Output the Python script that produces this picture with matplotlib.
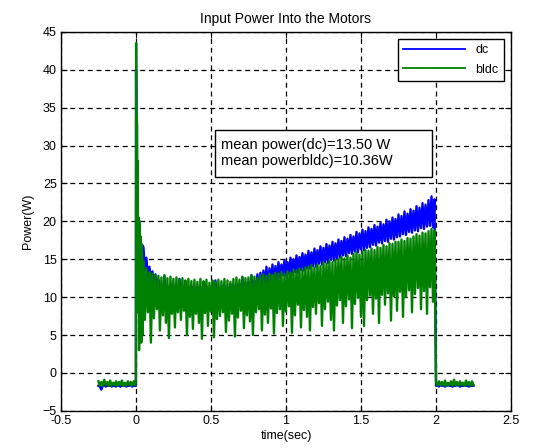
import numpy as np
import matplotlib
matplotlib.use("Agg")
from matplotlib import pyplot as plt
from matplotlib.patches import Rectangle

# ---- data (power in W) ----
# idle before start, t = -0.25 .. 0
dc_pre = [-1.7, -1.8, -2.2, -1.7, -1.6, -1.8, -1.7, -1.7, -1.6, -1.8, -1.7, -1.7, -1.8,
          -1.6, -1.7, -1.8, -1.7, -1.6, -1.7, -1.8, -1.7, -1.7, -1.6, -1.8, -1.7, -1.7]
bldc_pre = [-1.1, -1.7, -1.2, -1.7, -0.9, -1.6, -1.2, -1.7, -1.0, -1.7, -1.3, -1.6, -1.1,
            -1.7, -1.2, -1.6, -1.0, -1.7, -1.3, -1.7, -1.1, -1.6, -1.2, -1.7, -1.1, -1.6]

# start-up transient
dc_tr_t = [0.0, 0.001, 0.004, 0.008, 0.012, 0.016, 0.020, 0.025, 0.030, 0.035, 0.040, 0.045]
dc_tr = [-1.7, 40.0, 30.0, 25.0, 22.0, 18.0, 15.0, 17.0, 14.5, 16.5, 13.5, 16.8]
bldc_tr_t = [0.0, 0.0015, 0.003, 0.004, 0.005, 0.006, 0.007, 0.008, 0.009, 0.011, 0.013,
             0.015, 0.017, 0.019, 0.021, 0.023, 0.026, 0.028, 0.031, 0.034, 0.036, 0.039,
             0.042, 0.044, 0.047]
bldc_tr = [-1.2, 43.5, 34.5, 25.0, 34.0, 22.0, 33.0, 30.0, 10.0, 28.0, 22.0,
           8.0, 20.5, 20.0, 3.0, 19.0, 20.0, 6.0, 18.0, 16.0, 4.0, 17.0,
           15.0, 5.0, 14.5]

# running, t = 0.05 .. 1.99
dc_run = [
    16.6, 13.5, 15.2, 12.6, 14.0, 12.2, 13.4, 11.6, 13.0, 11.4,
    12.3, 10.2, 11.6, 10.5, 12.8, 10.0, 11.5, 10.3, 11.7, 9.9,
    11.6, 10.1, 11.4, 9.8, 12.4, 10.2, 11.3, 9.7, 11.5, 10.0,
    11.3, 9.7, 11.5, 9.9, 11.2, 8.8, 11.4, 9.8, 11.3, 9.6,
    11.2, 9.7, 11.4, 9.5, 11.2, 9.9, 11.1, 9.6, 12.2, 9.8,
    11.3, 9.7, 11.2, 10.0, 11.5, 9.8, 11.3, 10.1, 11.7, 9.9,
    11.6, 10.2, 11.8, 10.0, 11.7, 10.3, 12.6, 10.1, 11.9, 10.4,
    12.0, 10.5, 12.9, 10.3, 12.2, 10.6, 13.0, 10.5, 13.2, 10.8,
    13.5, 11.2, 14.0, 11.0, 13.8, 11.4, 14.3, 11.3, 14.1, 11.6,
    14.6, 12.6, 14.3, 12.9, 14.9, 12.8, 14.6, 13.1, 15.2, 13.0,
    15.0, 13.3, 15.5, 13.2, 15.3, 13.6, 15.8, 13.5, 15.6, 13.8,
    16.1, 13.8, 15.9, 14.1, 16.4, 14.0, 16.2, 14.4, 16.7, 14.3,
    16.5, 14.6, 17.0, 14.5, 16.8, 14.9, 17.3, 14.8, 17.1, 15.1,
    17.6, 15.2, 17.4, 15.5, 17.9, 15.4, 17.7, 15.8, 18.2, 15.7,
    18.0, 16.0, 18.6, 15.9, 18.4, 16.3, 18.9, 16.2, 18.7, 16.5,
    19.2, 16.6, 19.0, 16.9, 19.5, 16.8, 19.3, 17.2, 19.8, 17.1,
    19.6, 17.4, 20.2, 17.3, 20.0, 17.7, 20.5, 17.6, 20.3, 17.9,
    20.9, 18.0, 20.7, 18.3, 21.3, 18.2, 21.0, 18.6, 21.6, 18.5,
    21.4, 18.8, 22.0, 18.7, 21.8, 19.1, 22.4, 19.0, 22.2, 19.3,
    22.8, 19.4, 23.3, 19.2, 22.9,
]
bldc_run = [
    14.8, 7.0, 13.8, 8.0, 13.3, 4.0, 13.1, 7.2, 12.9, 8.4,
    12.8, 5.6, 12.6, 7.6, 12.9, 6.6, 12.5, 4.6, 12.7, 7.8,
    12.4, 6.0, 12.6, 8.0, 12.3, 7.0, 12.5, 8.2, 12.2, 5.0,
    12.4, 7.4, 12.1, 5.8, 12.3, 7.8, 12.0, 6.6, 12.4, 4.5,
    12.1, 7.9, 12.3, 6.2, 11.9, 8.1, 12.2, 4.7, 12.0, 7.1,
    12.3, 7.5, 12.1, 8.0, 12.4, 5.4, 12.2, 6.9, 12.0, 7.8,
    12.4, 4.8, 12.6, 7.3, 12.3, 8.2, 12.7, 5.9, 12.5, 7.6,
    12.6, 6.8, 12.9, 5.0, 12.7, 8.0, 12.5, 8.4, 12.8, 5.6,
    13.0, 7.7, 12.8, 6.6, 13.1, 8.5, 12.9, 5.2, 13.2, 7.9,
    13.1, 8.4, 13.3, 6.2, 13.0, 8.1, 13.4, 8.8, 13.2, 5.3,
    13.6, 7.6, 13.5, 9.0, 13.8, 6.0, 13.6, 8.3, 13.9, 7.4,
    14.0, 5.6, 14.2, 8.7, 13.9, 7.8, 14.3, 9.2, 14.1, 6.2,
    14.6, 8.4, 14.4, 9.4, 14.8, 7.0, 14.6, 5.6, 14.9, 8.9,
    15.0, 9.6, 15.3, 6.6, 15.1, 8.8, 15.5, 9.7, 15.2, 5.9,
    15.7, 9.1, 15.9, 9.9, 15.6, 7.4, 16.0, 6.2, 16.2, 9.6,
    16.1, 10.2, 16.4, 7.8, 16.2, 9.8, 16.6, 6.6, 16.5, 10.3,
    16.9, 9.0, 16.7, 10.5, 17.1, 6.9, 17.0, 10.1, 17.3, 8.2,
    17.3, 10.7, 17.6, 7.4, 17.4, 10.0, 17.8, 10.9, 17.7, 8.0,
    18.0, 10.4, 18.3, 11.2, 18.1, 8.4, 18.5, 10.8, 18.4, 7.8,
    18.7, 11.3, 19.0, 9.4, 18.8,
]

# idle after stop, t = 2.0 .. 2.25
dc_post = [-1.7, -1.7, -1.8, -1.6, -1.7, -1.7, -1.8, -1.7, -1.6, -1.7, -1.7, -1.8, -1.7,
           -1.7, -1.6, -1.7, -1.8, -1.7, -1.7, -1.6, -1.7, -1.7, -1.8, -1.7, -1.7, -1.7]
bldc_post = [-1.2, -1.7, -1.1, -1.6, -1.2, -1.7, -1.0, -1.7, -1.3, -1.6, -1.1, -1.7, -0.9,
             -1.6, -1.2, -1.7, -1.1, -1.6, -1.3, -1.7, -1.0, -1.6, -1.2, -1.7, -1.1, -1.6]

mean_dc = 13.50
mean_bldc = 10.36


def build(pre, tr_t, tr, run, post):
    t = np.concatenate([
        np.linspace(-0.25, -0.005, len(pre)),
        tr_t,
        np.linspace(0.05, 1.99, len(run)),
        np.linspace(2.0, 2.25, len(post)),
    ])
    y = np.concatenate([pre, tr, run, post])
    return t, y


t_dc, p_dc = build(dc_pre, dc_tr_t, dc_tr, dc_run, dc_post)
t_bl, p_bl = build(bldc_pre, bldc_tr_t, bldc_tr, bldc_run, bldc_post)

plt.rcParams['font.family'] = ['Liberation Sans', 'DejaVu Sans']

fig = plt.figure(figsize=(5.34, 4.48), dpi=100)
ax = fig.add_axes([0.114, 0.083, 0.843, 0.846])

ax.plot(t_dc, p_dc, color='#0000ff', lw=1.7, label='dc')
ax.plot(t_bl, p_bl, color='#008000', lw=1.7, label='bldc')

ax.set_xlim(-0.5, 2.5)
ax.set_ylim(-5, 45)
ax.set_xticks(np.arange(-0.5, 2.51, 0.5))
ax.set_yticks(np.arange(-5, 46, 5))
ax.set_xticklabels(['-0.5', '0', '0.5', '1', '1.5', '2', '2.5'])
ax.tick_params(direction='in', top=True, right=True, length=4, labelsize=9, pad=3)
ax.grid(True, color='black', linestyle=(0, (4, 3)), linewidth=0.9)
for s in ax.spines.values():
    s.set_linewidth(1.0)

ax.set_title('Input Power Into the Motors', fontsize=10, pad=6)
ax.set_xlabel('time(sec)', fontsize=9, labelpad=2)
ax.set_ylabel('Power(W)', fontsize=9, labelpad=6)

leg = ax.legend(loc='upper right', fontsize=9, handlelength=5.0, fancybox=False,
                framealpha=1, edgecolor='black', borderaxespad=0.6, handletextpad=0.8,
                labelspacing=0.6)
leg.get_frame().set_linewidth(1.0)
for h in leg.get_lines():
    h.set_linewidth(1.3)

# annotation box with the means
ax.add_patch(Rectangle((0.342, 0.617), 0.482, 0.124, transform=ax.transAxes,
                       facecolor='white', edgecolor='black', lw=1.0, zorder=4))
ax.text(0.356, 0.702, f'mean power(dc)={mean_dc:.2f} W', transform=ax.transAxes,
        fontsize=10.5, va='center', zorder=5)
ax.text(0.356, 0.660, f'mean powerbldc)={mean_bldc:.2f}W', transform=ax.transAxes,
        fontsize=10.5, va='center', zorder=5)

fig.savefig('out.png', dpi=100)
